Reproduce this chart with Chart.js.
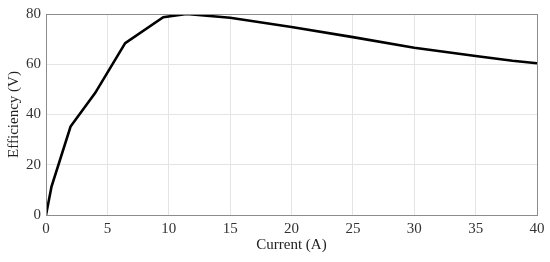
<!DOCTYPE html>
<html>
<head>
<meta charset="utf-8">
<script src="https://cdn.jsdelivr.net/npm/chart.js@4"></script>
<style>
  html, body { margin: 0; padding: 0; background: #fff; }
  #wrap { width: 550px; height: 262px; }
</style>
</head>
<body>
<div id="wrap"><canvas id="effChart" width="550" height="262"></canvas></div>
<script>
// efficiency curve
const currentA = [0, 0.45, 2.0, 4.0, 6.45, 9.55, 11.45, 15.0, 20.0, 25.0, 30.0, 35.0, 38.0, 40.0];
const efficiency = [0, 11.3, 35.2, 48.5, 68.4, 78.7, 80.0, 78.5, 74.8, 70.8, 66.6, 63.3, 61.4, 60.4];
const xTicks = [0, 5, 10, 15, 20, 25, 30, 35, 40];
const yTicks = [0, 20, 40, 60, 80];

const font = { family: "'Liberation Serif', 'Times New Roman', serif", size: 15 };

// box around the plot area like MATLAB
const frame = {
  id: 'frame',
  afterDraw(chart) {
    const { ctx, chartArea: a } = chart;
    ctx.save();
    ctx.strokeStyle = '#8c8c8c';
    ctx.lineWidth = 1;
    ctx.strokeRect(a.left + 0.5, a.top + 0.5, a.right - a.left, a.bottom - a.top);
    ctx.restore();
  }
};

const ctx = document.getElementById('effChart').getContext('2d');
new Chart(ctx, {
  type: 'scatter',
  data: {
    datasets: [{
      data: currentA.map((x, i) => ({ x, y: efficiency[i] })),
      showLine: true,
      borderColor: '#000',
      borderWidth: 2.6,
      pointRadius: 0,
      tension: 0
    }]
  },
  options: {
    responsive: false,
    animation: false,
    layout: { padding: { top: 14, right: 13, left: 5, bottom: 0 } },
    plugins: { legend: { display: false }, tooltip: { enabled: false } },
    scales: {
      x: {
        type: 'linear', min: 0, max: 40,
        afterBuildTicks: s => { s.ticks = xTicks.map(v => ({ value: v })); },
        afterFit: s => { s.height = 47; },
        grid: { color: '#e4e4e4', drawTicks: false },
        border: { display: false },
        ticks: { font, color: '#333', padding: 5, maxRotation: 0 },
        title: { display: true, text: 'Current (A)', font, color: '#222', padding: { top: 0, bottom: 8 } }
      },
      y: {
        min: 0, max: 80,
        afterBuildTicks: s => { s.ticks = yTicks.map(v => ({ value: v })); },
        afterFit: s => { s.width = 41; },
        grid: { color: '#e4e4e4', drawTicks: false },
        border: { display: false },
        ticks: { font, color: '#333', padding: 5 },
        title: { display: true, text: 'Efficiency (V)', font, color: '#222', padding: { top: 0, bottom: 0 } }
      }
    }
  },
  plugins: [frame]
});
</script>
</body>
</html>
